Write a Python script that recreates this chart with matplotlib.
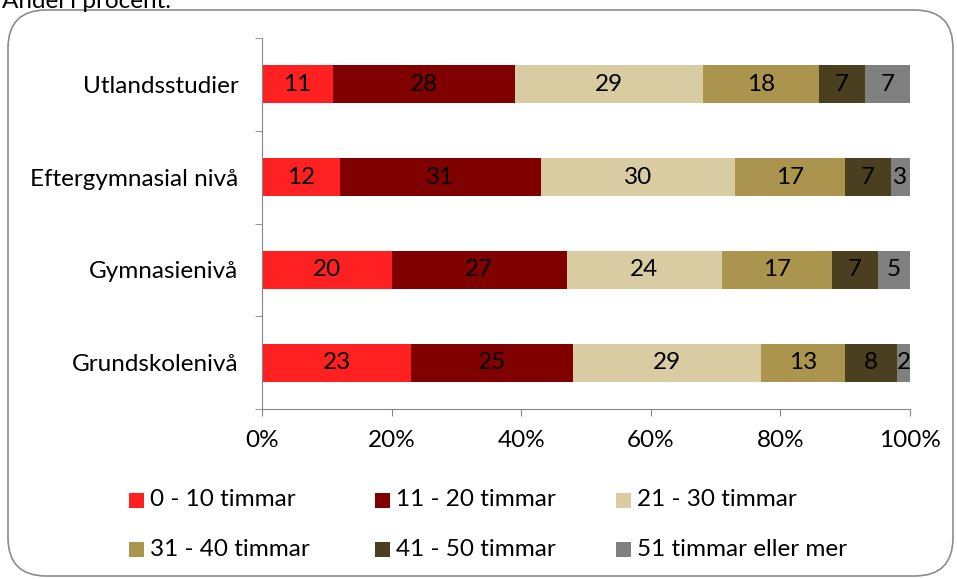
import matplotlib
matplotlib.use("Agg")
import matplotlib.pyplot as plt
from matplotlib.patches import FancyBboxPatch, Rectangle
import numpy as np

plt.rcParams['font.family'] = ['Lato', 'DejaVu Sans']

categories = ["Grundskolenivå", "Gymnasienivå", "Eftergymnasial nivå", "Utlandsstudier"]
series_names = ["0 - 10 timmar", "11 - 20 timmar", "21 - 30 timmar",
                "31 - 40 timmar", "41 - 50 timmar", "51 timmar eller mer"]
values = [
    [23, 20, 12, 11],
    [25, 27, 31, 28],
    [29, 24, 30, 29],
    [13, 17, 17, 18],
    [8, 7, 7, 7],
    [2, 5, 3, 7],
]
colors = ["#FF2121", "#800000", "#D9CCA3", "#AB944E", "#4A3F1E", "#808080"]
xticks = [0, 20, 40, 60, 80, 100]
xticklabels = ["0%", "20%", "40%", "60%", "80%", "100%"]

FS = 17.5
W, H = 957, 579
fig = plt.figure(figsize=(W / 100, H / 100), dpi=100)

# rounded frame
frame = FancyBboxPatch((8 / W, 3 / H), 945 / W, 566 / H,
                       boxstyle="round,pad=0,rounding_size=0.04",
                       transform=fig.transFigure, fill=False,
                       edgecolor="#8C8C8C", linewidth=1.2, mutation_aspect=W / H)
fig.patches.append(frame)

fig.text(2 / W, 1 - 1 / H, "Andel i procent.", fontsize=FS, va="center", ha="left")

ax = fig.add_axes([262 / W, 1 - 409 / H, (910 - 262) / W, (409 - 38) / H])
y = np.arange(len(categories))
left = np.zeros(len(categories))
for vals, col in zip(values, colors):
    vals = np.array(vals, dtype=float)
    ax.barh(y, vals, left=left, height=0.41, color=col, edgecolor="none")
    for yi, l, v in zip(y, left, vals):
        ax.text(l + v / 2, yi, f"{int(v)}", ha="center", va="center",
                fontsize=FS, color="black")
    left += vals

ax.set_xlim(0, 100)
ax.set_ylim(-0.5, len(categories) - 0.5)
ax.set_xticks(xticks)
ax.set_xticklabels(xticklabels, fontsize=FS)
ax.set_yticks(y)
ax.set_yticklabels(categories, fontsize=FS)
ax.set_yticks(np.arange(-0.5, len(categories)), minor=True)
ax.tick_params(axis="y", which="major", length=0, pad=17)
ax.tick_params(axis="y", which="minor", length=5, color="#868686", direction="out")
ax.tick_params(axis="x", length=5, color="#868686", direction="out", pad=10)
for s in ["top", "right"]:
    ax.spines[s].set_visible(False)
for s in ["left", "bottom"]:
    ax.spines[s].set_color("#868686")

# legend, laid out manually in a 3x2 grid
col_x = [129, 375, 616]
row_y = [500, 549]
for i, (name, col) in enumerate(zip(series_names, colors)):
    r, c = divmod(i, 3)
    x0 = col_x[c]
    y0 = row_y[r]
    fig.patches.append(Rectangle((x0 / W, 1 - (y0 + 7.5) / H), 15 / W, 15 / H,
                                 transform=fig.transFigure, facecolor=col,
                                 edgecolor="none"))
    fig.text((x0 + 21) / W, 1 - y0 / H, name, fontsize=FS, va="center", ha="left")

fig.savefig("out.png", dpi=100)
